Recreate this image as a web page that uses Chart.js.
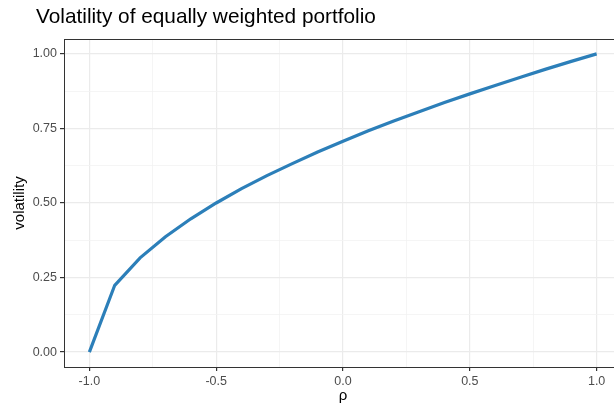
<!DOCTYPE html>
<html>
<head>
<meta charset="utf-8">
<script src="https://cdn.jsdelivr.net/npm/chart.js@4"></script>
<style>
  html, body { margin: 0; padding: 0; background: #fff; }
  #wrap { position: relative; width: 614px; height: 407px; overflow: hidden; }
  #title {
    position: absolute; left: 36px; top: 4px;
    font-family: "Liberation Sans", Arial, sans-serif; font-size: 20.8px; color: #000;
  }
  #chart { position: absolute; left: 0; top: 0; }
</style>
</head>
<body>
<div id="wrap">
  <canvas id="chart" width="640" height="407"></canvas>
  <div id="title">Volatility of equally weighted portfolio</div>
</div>
<script>
/* 등가중 포트폴리오 변동성 vs 상관계수 */

const RHO = [-1.0, -0.9, -0.8, -0.7, -0.6, -0.5, -0.4, -0.3, -0.2, -0.1, 0.0,
             0.1, 0.2, 0.3, 0.4, 0.5, 0.6, 0.7, 0.8, 0.9, 1.0];
const VOLATILITY = [0.000, 0.224, 0.316, 0.387, 0.447, 0.500, 0.548, 0.592, 0.632, 0.671, 0.707,
                    0.742, 0.775, 0.806, 0.837, 0.866, 0.894, 0.922, 0.949, 0.975, 1.000];
const X_TICKS = [-1.0, -0.75, -0.5, -0.25, 0.0, 0.25, 0.5, 0.75, 1.0];
const Y_TICKS = [0.0, 0.125, 0.25, 0.375, 0.5, 0.625, 0.75, 0.875, 1.0];

const FONT = "'Liberation Sans', Arial, sans-serif";
const LINE_COLOR = "#2c7fb9";

function isMajor(v, step) {
  return Math.abs(v / step - Math.round(v / step)) < 1e-6;
}

// 패널 테두리 (위/오른쪽 포함)
const panelBorder = {
  id: "panelBorder",
  afterDraw(chart) {
    const { ctx, chartArea: a } = chart;
    ctx.save();
    ctx.strokeStyle = "#333333";
    ctx.lineWidth = 1;
    ctx.strokeRect(a.left + 0.5, a.top + 0.5, a.right - a.left - 1, a.bottom - a.top);
    ctx.restore();
  },
};

new Chart(document.getElementById("chart"), {
  type: "line",
  data: {
    datasets: [{
      data: RHO.map((r, i) => ({ x: r, y: VOLATILITY[i] })),
      borderColor: LINE_COLOR,
      borderWidth: 3.2,
      pointRadius: 0,
      tension: 0,
      fill: false,
    }],
  },
  options: {
    responsive: false,
    animation: false,
    devicePixelRatio: 1,
    layout: { padding: { top: 39, right: 18, left: 0, bottom: 0 } },
    plugins: { legend: { display: false }, tooltip: { enabled: false } },
    scales: {
      x: {
        type: "linear",
        min: -1.1,
        max: 1.1,
        afterBuildTicks: (s) => { s.ticks = X_TICKS.map((v) => ({ value: v })); },
        afterFit: (s) => { s.height = 40; },
        ticks: {
          color: "#4d4d4d",
          font: { family: FONT, size: 12.5 },
          padding: 3,
          maxRotation: 0,
          autoSkip: false,
          callback: (v) => (isMajor(v, 0.5) ? v.toFixed(1) : ""),
        },
        grid: {
          color: (c) => (isMajor(c.tick.value, 0.5) ? "#ebebeb" : "#f2f2f2"),
          lineWidth: (c) => (isMajor(c.tick.value, 0.5) ? 1.2 : 0.8),
          tickColor: (c) => (isMajor(c.tick.value, 0.5) ? "#333333" : "rgba(0,0,0,0)"),
          tickLength: 4,
        },
        border: { color: "#333333", width: 1 },
        title: {
          display: true,
          text: "ρ",
          color: "#000",
          font: { family: FONT, size: 15 },
          padding: { top: 0, bottom: 2 },
        },
      },
      y: {
        type: "linear",
        min: -0.05,
        max: 1.05,
        afterBuildTicks: (s) => { s.ticks = Y_TICKS.map((v) => ({ value: v })); },
        afterFit: (s) => { s.width = 64; },
        ticks: {
          color: "#4d4d4d",
          font: { family: FONT, size: 12.5 },
          padding: 3,
          autoSkip: false,
          callback: (v) => (isMajor(v, 0.25) ? v.toFixed(2) : ""),
        },
        grid: {
          color: (c) => (isMajor(c.tick.value, 0.25) ? "#ebebeb" : "#f2f2f2"),
          lineWidth: (c) => (isMajor(c.tick.value, 0.25) ? 1.2 : 0.8),
          tickColor: (c) => (isMajor(c.tick.value, 0.25) ? "#333333" : "rgba(0,0,0,0)"),
          tickLength: 4,
        },
        border: { color: "#333333", width: 1 },
        title: {
          display: true,
          text: "volatility",
          color: "#000",
          font: { family: FONT, size: 15 },
          padding: { top: 11, bottom: 0 },
        },
      },
    },
  },
  plugins: [panelBorder],
});
</script>
</body>
</html>
